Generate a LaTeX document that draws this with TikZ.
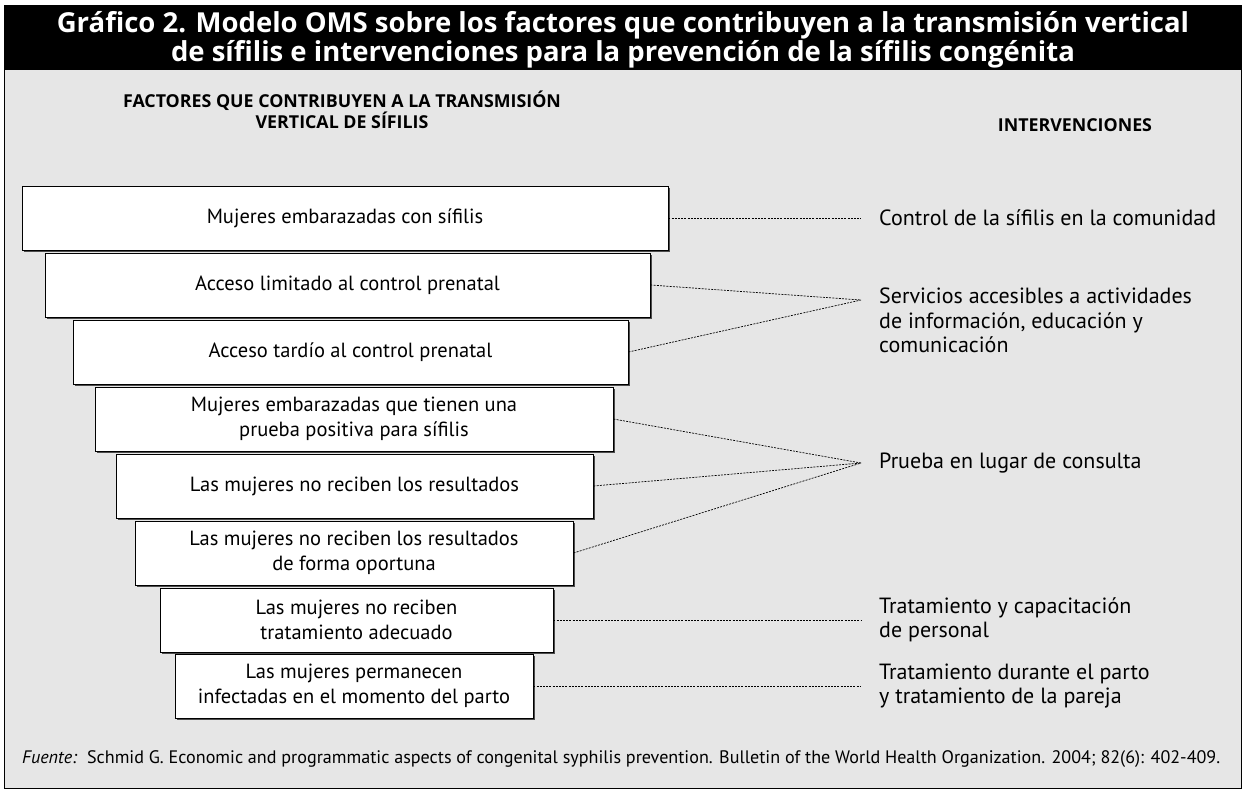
\documentclass[tikz,border=0pt]{standalone}
\usepackage{fontspec}
\setmainfont{PT Sans}
\newfontfamily\headfont{Open Sans}
\usetikzlibrary{shadows}
\definecolor{panel}{HTML}{E6E6E6}
\begin{document}
\begin{tikzpicture}[x=1pt,y=-1pt,
  fbox/.style={draw=black, line width=0.9pt, fill=white, inner sep=0pt, align=center,
    minimum height=64pt, font=\fontsize{20.5}{25.5}\selectfont,
    drop shadow={shadow xshift=1.6pt, shadow yshift=-1.6pt, fill=black!70, opacity=1}},
  dotl/.style={line width=0.7pt, dash pattern=on 2pt off 1.2pt},
  itext/.style={inner sep=0pt, align=left, font=\fontsize{22}{24.5}\selectfont},
  head/.style={inner sep=0pt, align=center, font=\headfont\fontsize{17.8}{21}\selectfont\bfseries}
]
\useasboundingbox (0,0) rectangle (1246,793);
\fill[white] (0,0) rectangle (1246,793);
\fill[panel] (4,70) rectangle (1241,788);
\fill[black] (4,5) rectangle (1241,70);
\draw[line width=0.8pt] (4,5) rectangle (1241,788);

\node[inner sep=0pt, align=center, text=white, font=\headfont\fontsize{27.5}{27}\selectfont\bfseries] (title) at (623,40)
  {Gráfico 2. Modelo OMS sobre los factores que contribuyen a la transmisión vertical\\
   de sífilis e intervenciones para la prevención de la sífilis congénita};

\node[head] (h1) at (342,110) {FACTORES QUE CONTRIBUYEN A LA TRANSMISIÓN\\VERTICAL DE SÍFILIS};
\node[head] (h2) at (1075,125) {INTERVENCIONES};

\node[fbox, minimum width=646pt] (b1) at (345,218) {Mujeres embarazadas con sífilis};
\node[fbox, minimum width=605pt] (b2) at (347.5,285) {Acceso limitado al control prenatal};
\node[fbox, minimum width=555pt] (b3) at (350.5,352) {Acceso tardío al control prenatal};
\node[fbox, minimum width=518pt] (b4) at (354,419) {Mujeres embarazadas que tienen una\\prueba positiva para sífilis};
\node[fbox, minimum width=477pt] (b5) at (354.5,486) {Las mujeres no reciben los resultados};
\node[fbox, minimum width=438pt] (b6) at (354,553) {Las mujeres no reciben los resultados\\de forma oportuna};
\node[fbox, minimum width=393pt] (b7) at (356.5,620) {Las mujeres no reciben\\tratamiento adecuado};
\node[fbox, minimum width=358pt] (b8) at (354,686) {Las mujeres permanecen\\infectadas en el momento del parto};

\node[itext, anchor=west] (i1) at (879,218) {Control de la sífilis en la comunidad};
\node[itext, anchor=north west] (i2) at (879,288) {Servicios accesibles a actividades\\de información, educación y\\comunicación};
\node[itext, anchor=west] (i3) at (879,463) {Prueba en lugar de consulta};
\node[itext, anchor=west] (i4) at (879,620) {Tratamiento y capacitación\\de personal};
\node[itext, anchor=west] (i5) at (879,686) {Tratamiento durante el parto\\y tratamiento de la pareja};

\coordinate (c1) at (861,218);
\coordinate (c2) at (861,300);
\coordinate (c3) at (861,463);
\coordinate (c4) at (861,620);
\coordinate (c5) at (861,686);

\draw[dotl] (b1.east) -- (c1);
\draw[dotl] (b2.east) -- (c2);
\draw[dotl] (b3.east) -- (c2);
\draw[dotl] (b4.east) -- (c3);
\draw[dotl] (b5.east) -- (c3);
\draw[dotl] (b6.east) -- (c3);
\draw[dotl] (b7.east) -- (c4);
\draw[dotl] (b8.east) -- (c5);

\node[inner sep=0pt, anchor=west, font=\fontsize{18.1}{20}\selectfont] (src) at (22,759)
  {\textit{Fuente:}\ \ Schmid G. Economic and programmatic aspects of congenital syphilis prevention. Bulletin of the World Health Organization. 2004; 82(6): 402-409.};
\end{tikzpicture}
\end{document}
